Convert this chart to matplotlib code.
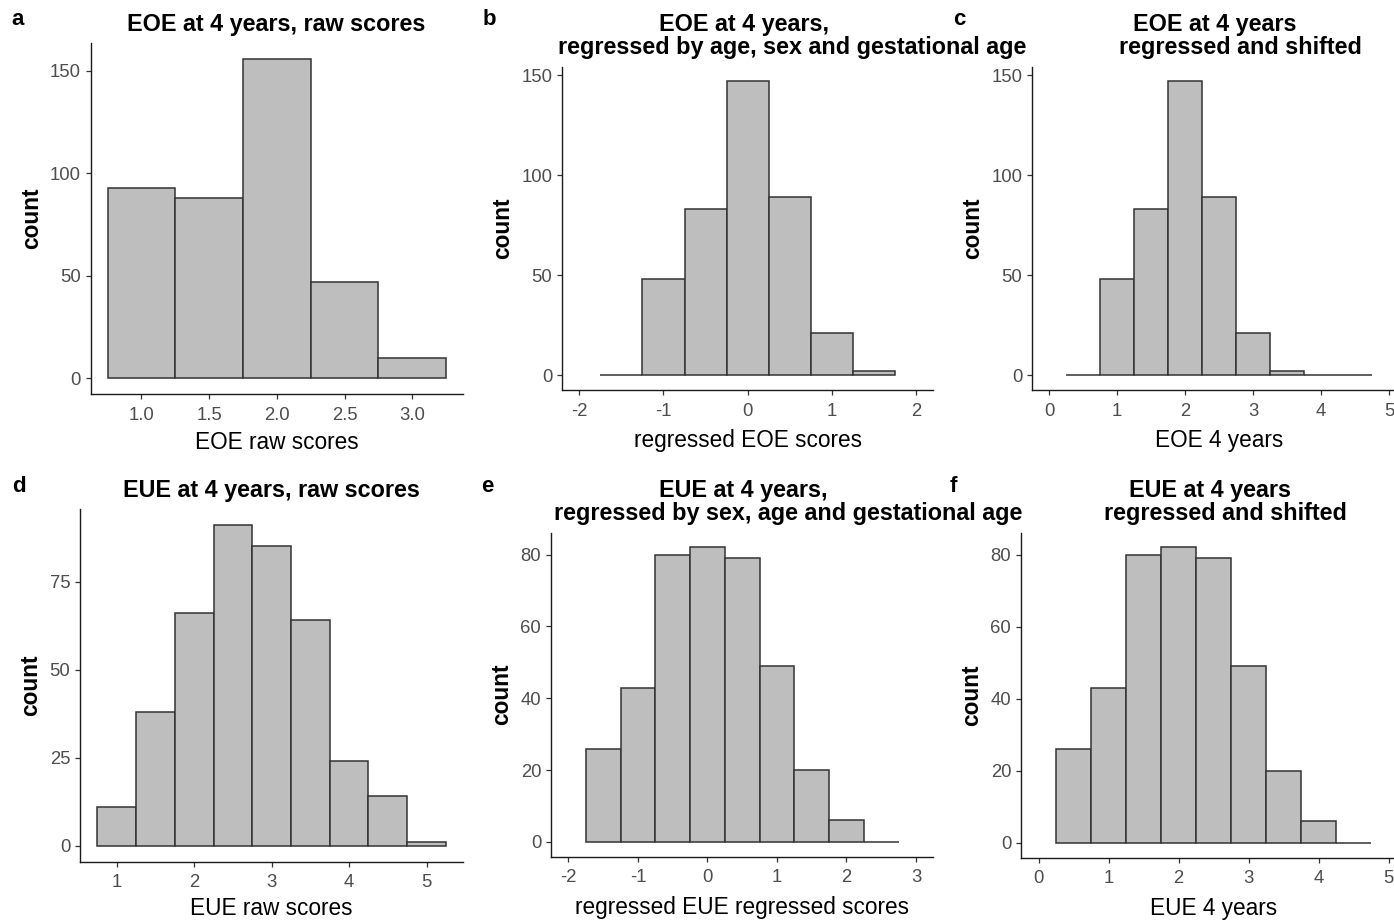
import matplotlib
matplotlib.use("Agg")
import matplotlib.pyplot as plt

plt.rcParams['font.family'] = ['Liberation Sans', 'DejaVu Sans']

W, H = 1394, 922

# ---- data (bin centres, counts) ----
a_centers = [1.0, 1.5, 2.0, 2.5, 3.0]
a_counts = [93, 88, 156, 47, 10]

b_centers = [-1.5, -1.0, -0.5, 0.0, 0.5, 1.0, 1.5]
b_counts = [0, 48, 83, 147, 89, 21, 2]

c_centers = [0.5, 1.0, 1.5, 2.0, 2.5, 3.0, 3.5, 4.0, 4.5]
c_counts = [0, 48, 83, 147, 89, 21, 2, 0, 0]

d_centers = [1.0, 1.5, 2.0, 2.5, 3.0, 3.5, 4.0, 4.5, 5.0]
d_counts = [11, 38, 66, 91, 85, 64, 24, 14, 1]

e_centers = [-1.5, -1.0, -0.5, 0.0, 0.5, 1.0, 1.5, 2.0, 2.5]
e_counts = [26, 43, 80, 82, 79, 49, 20, 6, 0]

f_centers = [0.5, 1.0, 1.5, 2.0, 2.5, 3.0, 3.5, 4.0, 4.5]
f_counts = [26, 43, 80, 82, 79, 49, 20, 6, 0]

binwidth = 0.5

a_xticks = [1.0, 1.5, 2.0, 2.5, 3.0]
a_xticklabels = ["1.0", "1.5", "2.0", "2.5", "3.0"]
b_xticks = [-2, -1, 0, 1, 2]
c_xticks = [0, 1, 2, 3, 4, 5]
d_xticks = [1, 2, 3, 4, 5]
e_xticks = [-2, -1, 0, 1, 2, 3]
f_xticks = [0, 1, 2, 3, 4, 5]
top_yticks = [0, 50, 100, 150]
d_yticks = [0, 25, 50, 75]
ef_yticks = [0, 20, 40, 60, 80]

fig = plt.figure(figsize=(W / 100, H / 100), dpi=100)


def add_ax(left, right, top, bottom):
    return fig.add_axes([left / W, 1 - bottom / H, (right - left) / W, (bottom - top) / H])


def style(ax, centers, counts, xlim, xticks, yticks, xlabel, xticklabels=None, xlabelpad=5.5):
    ax.bar(centers, counts, width=binwidth, align='center', color='#BEBEBE',
           edgecolor='#333333', linewidth=1.1)
    ymax = max(counts)
    ax.set_ylim(-0.05 * ymax, 1.05 * ymax)
    ax.set_xlim(*xlim)
    ax.set_xticks(xticks)
    if xticklabels is not None:
        ax.set_xticklabels(xticklabels)
    else:
        ax.set_xticklabels([str(t) for t in xticks])
    ax.set_yticks(yticks)
    for s in ['top', 'right']:
        ax.spines[s].set_visible(False)
    for s in ['left', 'bottom']:
        ax.spines[s].set_color('#1a1a1a')
        ax.spines[s].set_linewidth(1.0)
    ax.tick_params(axis='both', length=3.6, width=0.9, color='#333333',
                   labelsize=13.3, labelcolor='#4D4D4D')
    ax.tick_params(axis='x', pad=5.5)
    ax.tick_params(axis='y', pad=3.5)
    ax.set_xlabel(xlabel, fontsize=16.3, color='black', labelpad=xlabelpad)
    ax.set_ylabel('count', fontsize=16.3, fontweight='bold', color='black', labelpad=5)


axa = add_ax(90.7, 463, 42.7, 394)
style(axa, a_centers, a_counts, (0.625, 3.375), a_xticks, top_yticks, 'EOE raw scores', a_xticklabels, 5)
axb = add_ax(562.3, 933.3, 66.7, 390)
style(axb, b_centers, b_counts, (-2.2, 2.2), b_xticks, top_yticks, 'regressed EOE scores', None, 7)
axc = add_ax(1032, 1406, 66.7, 390)
style(axc, c_centers, c_counts, (-0.25, 5.25), c_xticks, top_yticks, 'EOE 4 years', None, 7)
axd = add_ax(80, 463.3, 509.3, 861.7)
style(axd, d_centers, d_counts, (0.525, 5.475), d_xticks, d_yticks, 'EUE raw scores', None, 4)
axe = add_ax(551, 933.3, 532.7, 856.7)
style(axe, e_centers, e_counts, (-2.25, 3.25), e_xticks, ef_yticks, 'regressed EUE regressed scores', None, 7)
axf = add_ax(1021, 1406, 532.7, 857.7)
style(axf, f_centers, f_counts, (-0.25, 5.25), f_xticks, ef_yticks, 'EUE 4 years', None, 7)


def ftext(x, y, s, size=16.8, ha='center'):
    fig.text(x / W, 1 - y / H, s, ha=ha, va='baseline', fontsize=size, fontweight='bold', color='black')


# titles (baseline positions)
ftext(276, 30.7, 'EOE at 4 years, raw scores')
ftext(744, 30.7, 'EOE at 4 years,')
ftext(792.5, 54, 'regressed by age, sex and gestational age')
ftext(1215, 30.7, 'EOE at 4 years')
ftext(1240, 54, 'regressed and shifted')
ftext(271, 496.7, 'EUE at 4 years, raw scores')
ftext(743, 496.7, 'EUE at 4 years,')
ftext(788, 520, 'regressed by sex, age and gestational age')
ftext(1210, 496.7, 'EUE at 4 years')
ftext(1225.5, 520, 'regressed and shifted')

# panel labels
for lab, x, y in [('a', 11.5, 25), ('b', 483, 25), ('c', 953, 25),
                  ('d', 12, 491.7), ('e', 481.5, 491.7), ('f', 950, 491.7)]:
    ftext(x, y, lab, size=16, ha='left')

fig.savefig('out.png', dpi=100)
